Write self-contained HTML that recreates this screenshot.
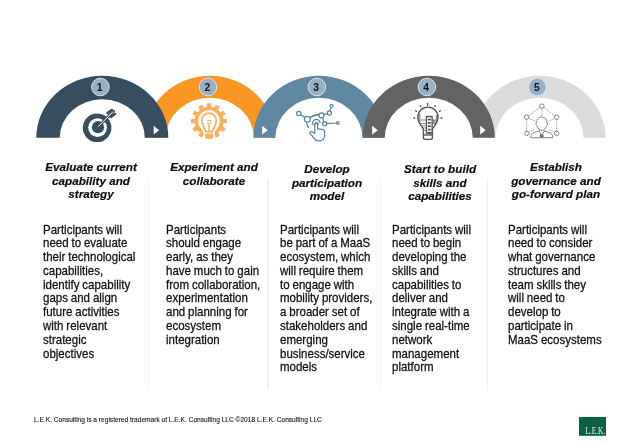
<!DOCTYPE html>
<html><head><meta charset="utf-8">
<style>
html,body{margin:0;padding:0;background:#fff;}
body{width:640px;height:443px;position:relative;overflow:hidden;font-family:"Liberation Sans",sans-serif;}
svg.main{position:absolute;left:0;top:0;will-change:transform;}
.h{position:absolute;will-change:transform;font-weight:bold;font-style:italic;font-size:11.7px;line-height:13.6px;color:#0d0d0d;-webkit-text-stroke:0.2px #0d0d0d;text-align:center;white-space:nowrap;}
.b{position:absolute;will-change:transform;transform:scaleY(1.06);transform-origin:0 0;font-size:11.5px;line-height:12.97px;color:#111;-webkit-text-stroke:0.25px #111;word-spacing:-0.3px;white-space:nowrap;}
.sep{position:absolute;top:179.3px;width:1.6px;height:210.3px;background:#efefef;}
.foot{position:absolute;left:34px;top:416px;font-size:6.6px;color:#111;-webkit-text-stroke:0.1px #111;white-space:nowrap;will-change:transform;}
</style></head>
<body>
<svg class="main" width="640" height="443" viewBox="0 0 640 443">
  <!-- arcs: order 2,5,1,3,4 -->
  <path fill="#fa9622" d="M144.6,137.8 A65.2,62 0 0 1 275,137.8 L253.8,137.8 A44,40 0 0 0 165.8,137.8 Z"/>
  <path fill="#dcdcdc" d="M473.5,137.8 A66,62 0 0 1 605.5,137.8 L583.5,137.8 A44,40 0 0 0 495.5,137.8 Z"/>
  <path fill="#364e5f" d="M36.3,137.8 A66,62 0 0 1 168.3,137.8 L144.9,137.8 A42.6,38.6 0 0 0 59.7,137.8 Z"/>
  <path fill="#5f88a3" d="M253.4,137.8 A65.5,62 0 0 1 384.4,137.8 L362.4,137.8 A43.5,40 0 0 0 275.4,137.8 Z"/>
  <path fill="#636363" d="M362.75,137.8 A66,62 0 0 1 494.75,137.8 L472.75,137.8 A44,40 0 0 0 384.75,137.8 Z"/>
  <!-- triangles -->
  <g fill="#fff">
    <path d="M153.7,125.8 L159.1,130.2 L153.7,134.6 Z"/>
    <path d="M262.2,125.8 L267.7,130.2 L262.2,134.6 Z"/>
    <path d="M372.2,125.8 L377.7,130.2 L372.2,134.6 Z"/>
    <path d="M480.2,125.8 L485.6,130.2 L480.2,134.6 Z"/>
  </g>
  <!-- number circles -->
  <g fill="#95b1c7" stroke="#d9e3ea" stroke-width="1">
    <circle cx="100.4" cy="87" r="8.8"/>
    <circle cx="208" cy="87" r="8.8"/>
    <circle cx="316.9" cy="87" r="8.8"/>
    <circle cx="426.9" cy="87" r="8.8"/>
    <circle cx="537.4" cy="87" r="8.8"/>
  </g>
  <g font-family="Liberation Sans" font-weight="bold" font-size="10.3" fill="#111" text-anchor="middle">
    <text x="99.7" y="90.6">1</text>
    <text x="207.4" y="90.6">2</text>
    <text x="316.1" y="90.6">3</text>
    <text x="426.2" y="90.6">4</text>
    <text x="536.8" y="90.6">5</text>
  </g>
  <!-- ICONS -->
  <!-- 1: target -->
  <g>
    <circle cx="97.1" cy="127.8" r="14.3" fill="#364e5f"/>
    <circle cx="97.6" cy="127.6" r="9.4" fill="#fff"/>
    <circle cx="98" cy="127.2" r="6.1" fill="#364e5f"/>
    <line x1="98" y1="126.8" x2="113.6" y2="111.2" stroke="#364e5f" stroke-width="2.9" stroke-linecap="round"/>
    <line x1="107.6" y1="113" x2="111.8" y2="110" stroke="#364e5f" stroke-width="2.6" stroke-linecap="round"/>
    <line x1="110.6" y1="116.8" x2="115" y2="114" stroke="#364e5f" stroke-width="2.6" stroke-linecap="round"/>
    <line x1="98.4" y1="126.4" x2="113" y2="111.8" stroke="#fff" stroke-width="1" stroke-linecap="round"/>
  </g>
  <!-- 2: gear + bulb -->
  <g fill="#fdae58">
    <circle cx="208.95" cy="121.2" r="12.7" fill="none" stroke="#fdae58" stroke-width="3.7"/>
    <g id="teeth">
      <rect x="206.8" y="103.3" width="4.3" height="5" rx="0.6" transform="rotate(0 208.95 121.2)"/>
      <rect x="206.8" y="103.3" width="4.3" height="5" rx="0.6" transform="rotate(30 208.95 121.2)"/>
      <rect x="206.8" y="103.3" width="4.3" height="5" rx="0.6" transform="rotate(60 208.95 121.2)"/>
      <rect x="206.8" y="103.3" width="4.3" height="5" rx="0.6" transform="rotate(90 208.95 121.2)"/>
      <rect x="206.8" y="103.3" width="4.3" height="5" rx="0.6" transform="rotate(120 208.95 121.2)"/>
      <rect x="206.8" y="103.3" width="4.3" height="5" rx="0.6" transform="rotate(150 208.95 121.2)"/>
      <rect x="206.8" y="103.3" width="4.3" height="5" rx="0.6" transform="rotate(210 208.95 121.2)"/>
      <rect x="206.8" y="103.3" width="4.3" height="5" rx="0.6" transform="rotate(240 208.95 121.2)"/>
      <rect x="206.8" y="103.3" width="4.3" height="5" rx="0.6" transform="rotate(270 208.95 121.2)"/>
      <rect x="206.8" y="103.3" width="4.3" height="5" rx="0.6" transform="rotate(300 208.95 121.2)"/>
      <rect x="206.8" y="103.3" width="4.3" height="5" rx="0.6" transform="rotate(330 208.95 121.2)"/>
    </g>
    <!-- white cut around bulb -->
    <path d="M203.3,142 L203.3,132.4 C202.9,129.6 198.9,127.2 198.9,120.5 A10.15,10.15 0 1 1 219.2,120.5 C219.2,127.2 215.2,129.6 214.8,132.4 L214.8,142 Z" fill="#fff"/>
    <path d="M205.7,131.6 C205.5,128.5 201.75,126 201.75,120.5 A7.3,7.3 0 1 1 216.35,120.5 C216.35,126 212.6,128.5 212.4,131.6 Z" fill="none" stroke="#fdae58" stroke-width="1.7" stroke-linejoin="round"/>
    <rect x="205.2" y="133.4" width="7.8" height="4.7" rx="0.4"/>
    <rect x="206.6" y="137.8" width="5" height="1.3" rx="0.5"/>
    <rect x="206.8" y="120.1" width="4.6" height="1.2"/>
    <rect x="206.8" y="122.7" width="4.6" height="1.1"/>
    <rect x="208.3" y="123.8" width="1.4" height="7.2"/>
  </g>
  <!-- 3: hand + network -->
  <g fill="none" stroke="#5b84a1" stroke-width="1.2" stroke-linecap="round" stroke-linejoin="round">
    <circle cx="298.8" cy="113.5" r="2.2"/>
    <circle cx="307.4" cy="119.3" r="2.9"/>
    <circle cx="321.5" cy="115.4" r="2.5"/>
    <circle cx="329.4" cy="113" r="2.1"/>
    <circle cx="331.5" cy="105.9" r="1.5"/>
    <circle cx="324.6" cy="123.7" r="2.1"/>
    <circle cx="337.8" cy="122.9" r="1.3"/>
    <path d="M300.7,114.8 L304.9,117.6"/>
    <path d="M310,117.4 Q314.5,114.6 319,114.6" stroke-width="1.6"/>
    <path d="M323.9,114.8 L327.3,113.6"/>
    <path d="M329.9,110.9 L330.9,107.4"/>
    <path d="M322.6,117.6 L323.8,121.6"/>
    <path d="M326.7,123.6 L336.5,123"/>
    <path d="M306.7,122.8 Q307.2,125.6 308.5,127.6"/>
    <path d="M312.4,124.3 Q312.6,119.4 316,119.3 Q319.6,119.3 320,122.6"/>
    <path d="M314.1,125.4 Q314.6,122.6 316.3,122.5 Q318.2,122.6 318.4,124.2"/>
    <path d="M314.8,132.8 L314.8,124.6 Q314.8,123.3 316.2,123.3 Q317.6,123.3 317.6,124.6 L317.6,129.2 Q319.6,128.4 321.3,129.6 Q323.6,129 324.6,131 L324.6,136 Q324.2,140.6 319.2,140.8 Q315.6,140.9 313.8,138.2 L309.8,133.2 Q309.6,131.6 311.6,131.5 L314.8,133.4"/>
  </g>
  <!-- 4: bulb with building -->
  <g stroke="#555" fill="none" stroke-width="1.3" stroke-linecap="round">
    <path d="M427.6,103.5 L427.6,105.3"/>
    <path d="M420.2,105.7 L420.8,106.8"/>
    <path d="M435.4,105.7 L434.8,106.8"/>
    <path d="M415.6,110.8 L416.6,111.5"/>
    <path d="M440.4,110.8 L439.4,111.5"/>
    <path d="M413.8,118 L414.8,118"/>
    <path d="M441,118 L442,118"/>
  </g>
  <g fill="#969696">
    <path d="M418.2,113.6 L420.4,113.6 L420.4,123 L418.6,121 Z"/>
    <path d="M435.6,115 L437.8,115 L437.4,121 L435.6,123.6 Z"/>
    <rect x="420.6" y="119.4" width="5.6" height="1.2"/>
    <rect x="421" y="122.9" width="5.2" height="1.1"/>
    <rect x="421.8" y="125.2" width="4.4" height="1"/>
    <rect x="422.6" y="127.4" width="3.6" height="1"/>
    <rect x="423.4" y="130" width="2.8" height="1"/>
    <rect x="432.2" y="119.4" width="3.4" height="4.6"/>
    <rect x="423.6" y="133.9" width="8.6" height="2.1" fill="#8c8c8c"/>
  </g>
  <g stroke="#505050" fill="none" stroke-width="1.35">
    <path d="M423.4,131.2 L423.4,129.5 C423,126.5 417.8,123.6 417.8,117.2 A10.1,10.1 0 1 1 438,117.2 C438,123.6 432.8,126.5 432.4,129.5 L432.4,131.2"/>
    <path d="M423.4,131.2 L423.4,137.8 Q423.4,139.3 424.9,139.3 L430.9,139.3 Q432.4,139.3 432.4,137.8 L432.4,131.2"/>
    <rect x="426.5" y="116.5" width="5.6" height="16.7" fill="#fff" stroke-width="1.3"/>
  </g>
  <g fill="#404040">
    <rect x="428" y="118.7" width="2.7" height="1.6"/>
    <rect x="428" y="122.1" width="2.7" height="1.6"/>
    <rect x="428" y="125.4" width="2.7" height="1.6"/>
    <rect x="428" y="128.8" width="2.7" height="1.6"/>
    <rect x="428" y="131.9" width="2.7" height="1.3"/>
  </g>
  <!-- 5: person + network -->
  <g fill="none" stroke="#858585" stroke-width="1">
    <circle cx="541.9" cy="106.1" r="2.2"/>
    <circle cx="526.6" cy="117.1" r="2.2"/>
    <circle cx="556.6" cy="117.3" r="2.2"/>
    <circle cx="526.9" cy="133.4" r="2.2"/>
    <circle cx="556.6" cy="133.4" r="2.2"/>
    <path d="M541.7,117 C545,117 546.8,119.4 546.8,122.4 Q547.8,123 547.4,124.6 Q547,125.4 546.5,125.6 C545.7,128.4 544,130.4 541.7,130.4 C539.4,130.4 537.7,128.4 536.9,125.6 Q536.4,125.4 536,124.6 Q535.6,123 536.6,122.4 C536.6,119.4 538.4,117 541.7,117 Z"/>
    <path d="M539.3,129.8 L539.3,131.6 M544.1,129.8 L544.1,131.6"/>
    <path d="M530.6,137.7 L531,135.2 Q531.8,132.6 535.5,132 L538.8,131.4 L541.7,134.2 L544.6,131.4 L547.9,132 Q551.6,132.6 552.4,135.2 L552.8,137.7 Z"/>
    <g stroke-dasharray="1 1.1">
      <path d="M540,107.3 L528.6,115.8"/>
      <path d="M543.8,107.3 L554.6,116"/>
      <path d="M541.9,108.4 L541.9,116.8"/>
      <path d="M526.6,119.4 L526.6,131.2"/>
      <path d="M556.6,119.6 L556.6,131.2"/>
      <path d="M528.8,118.3 L535.8,121.6"/>
      <path d="M554.4,118.5 L547.6,121.6"/>
      <path d="M529,132.2 L534.2,129.5"/>
      <path d="M554.4,132.2 L549.2,129.5"/>
    </g>
  </g>
  <path d="M540.1,133.6 L541.7,135 L543.3,133.6 L543.6,137.6 L539.8,137.6 Z" fill="#6a6a6a"/>
  <rect x="579" y="417" width="27" height="18.8" fill="#0a6144"/>
  <text x="585.5" y="433.8" font-family="Liberation Serif" font-size="9.8" textLength="19.5" lengthAdjust="spacingAndGlyphs" fill="#eef3ef">L.E.K.</text>
</svg>

<!-- Headings -->
<div class="h" style="left:20.5px;width:140px;top:159.95px;">Evaluate current<br>capability and<br>strategy</div>
<div class="h" style="left:144.2px;width:140px;top:159.95px;">Experiment and<br>collaborate</div>
<div class="h" style="left:257.3px;width:140px;top:161.95px;">Develop<br>participation<br>model</div>
<div class="h" style="left:369.5px;width:140px;top:161.95px;">Start to build<br>skills and<br>capabilities</div>
<div class="h" style="left:486px;width:140px;top:159.95px;">Establish<br>governance and<br>go-forward plan</div>

<div class="sep" style="left:147.5px;"></div>
<div class="sep" style="left:267.2px;"></div>
<div class="sep" style="left:379.6px;"></div>
<div class="sep" style="left:486.7px;"></div>

<!-- Body -->
<div class="b" style="left:43.2px;top:223.4px;">Participants will<br>need to evaluate<br>their technological<br>capabilities,<br>identify capability<br>gaps and align<br>future activities<br>with relevant<br>strategic<br>objectives</div>
<div class="b" style="left:166px;top:223.4px;">Participants<br>should engage<br>early, as they<br>have much to gain<br>from collaboration,<br>experimentation<br>and planning for<br>ecosystem<br>integration</div>
<div class="b" style="left:279.6px;top:223.4px;">Participants will<br>be part of a MaaS<br>ecosystem, which<br>will require them<br>to engage with<br>mobility providers,<br>a broader set of<br>stakeholders and<br>emerging<br>business/service<br>models</div>
<div class="b" style="left:391.8px;top:223.4px;">Participants will<br>need to begin<br>developing the<br>skills and<br>capabilities to<br>deliver and<br>integrate with a<br>single real-time<br>network<br>management<br>platform</div>
<div class="b" style="left:508.4px;top:223.4px;">Participants will<br>need to consider<br>what governance<br>structures and<br>team skills they<br>will need to<br>develop to<br>participate in<br>MaaS ecosystems</div>

<div class="foot">L.E.K. Consulting is a registered trademark of L.E.K. Consulting LLC ©2018 L.E.K. Consulting LLC</div>
</body></html>
